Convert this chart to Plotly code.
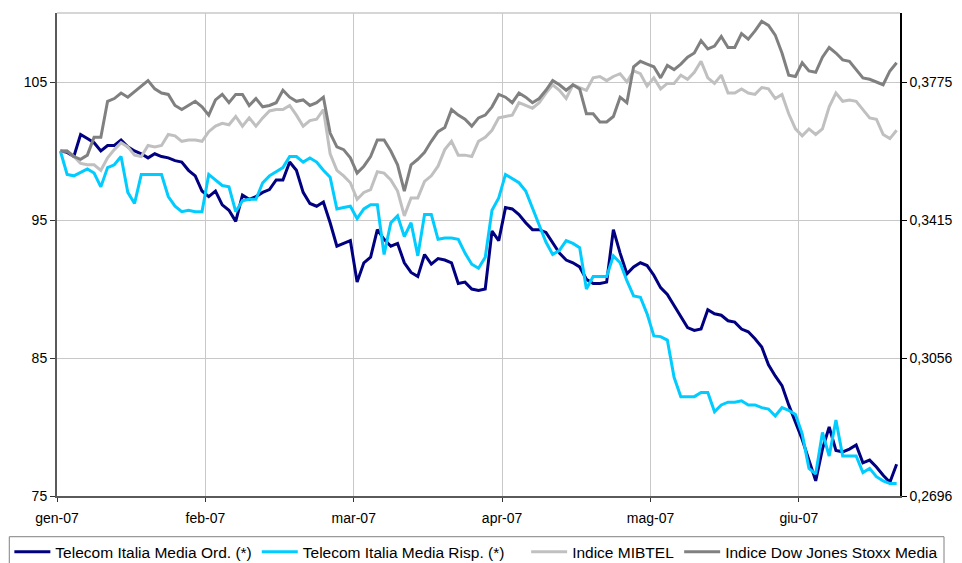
import plotly.graph_objects as go

# ---- data ----
month_labels = ["gen-07", "feb-07", "mar-07", "apr-07", "mag-07", "giu-07"]
points_per_month = 22
left_ticks = [75, 85, 95, 105]
right_tick_labels = ["0,2696", "0,3056", "0,3415", "0,3775"]
right_base_value = 0.2696   # right-axis value matching 75 on the left axis

telecom_ord = [
    100.0, 99.9, 99.6, 101.2, 100.9, 100.6, 100.0, 100.4, 100.4, 100.8,
    100.3, 100.0, 99.8, 99.5, 99.8, 99.6, 99.5, 99.3, 99.2, 98.6,
    98.2, 97.1, 96.7, 97.1, 96.1, 95.7, 94.9, 96.8, 96.5, 96.7,
    97.0, 97.2, 97.9, 97.9, 99.2, 98.6, 97.0, 96.2, 96.0,
    96.3, 94.8, 93.1, 93.3, 93.5, 90.5, 91.9, 92.3, 94.3, 93.6,
    93.1, 93.3, 91.9, 91.2, 90.9, 92.5, 91.8, 92.2, 92.1, 91.9,
    90.4, 90.5, 90.0, 89.9, 90.0, 94.2, 93.5, 95.9, 95.8, 95.4,
    94.8, 94.3, 94.3, 94.1, 93.3, 92.6, 92.1, 91.9, 91.6, 90.7,
    90.4, 90.4, 90.5, 94.3,
    92.6, 91.1, 91.6, 91.9, 91.7, 91.0, 90.1, 89.6, 88.8, 88.0,
    87.2, 87.0, 87.1, 88.5, 88.2, 88.1, 87.7, 87.6, 87.1, 86.9,
    86.4, 85.8, 84.5, 83.7, 83.0, 81.6, 80.4, 79.1, 77.6, 76.1,
    78.4, 80.0, 78.3, 78.2, 78.4, 78.7, 77.4, 77.6, 77.1, 76.5,
    76.0, 77.3,
]

telecom_risp = [
    100.0, 98.3, 98.2, 98.45, 98.7, 98.4, 97.4, 98.8, 99.0, 99.6,
    97.0, 96.2, 98.3, 98.3, 98.3, 98.3, 96.7, 96.0, 95.6, 95.7,
    95.6, 95.6, 98.3, 97.9, 97.5, 97.4, 95.6, 96.4, 96.5, 96.5,
    97.7, 98.2, 98.5, 98.8, 99.6, 99.6, 99.2, 99.5, 99.2,
    98.6, 98.1, 95.8, 95.9, 96.0, 95.1, 95.8, 96.1, 96.1, 92.5,
    94.8, 95.3, 93.8, 94.8, 92.4, 95.4, 95.4, 93.6, 93.7, 93.7,
    93.6, 92.6, 91.8, 91.5, 92.3, 95.7, 96.6, 98.3, 98.0, 97.7,
    97.1, 95.9, 94.6, 93.4, 92.5, 92.8, 93.5, 93.3, 93.0, 90.0,
    90.9, 90.9, 90.9, 92.4,
    91.9, 90.6, 89.5, 89.4, 88.2, 86.6, 86.55, 86.3, 83.6, 82.2,
    82.2, 82.2, 82.5, 82.5, 81.1, 81.6, 81.8, 81.8, 81.9, 81.6,
    81.6, 81.4, 81.3, 80.8, 81.4, 81.2, 80.9, 79.5, 77.0, 76.6,
    79.6, 77.9, 80.5, 77.9, 77.9, 77.9, 76.7, 77.0, 76.4, 76.1,
    75.9, 75.9,
]

indice_mibtel = [
    100.0, 100.0, 99.6, 99.1, 99.0, 99.0, 98.6, 99.5, 100.1, 100.6,
    100.3, 99.7, 99.6, 100.4, 100.3, 100.4, 101.2, 101.1, 100.7, 100.8,
    100.8, 100.7, 101.4, 101.8, 102.0, 101.9, 102.5, 101.8, 102.4, 101.8,
    102.4, 102.9, 103.0, 103.0, 103.3, 102.6, 101.8, 102.2, 102.3,
    103.0, 99.8, 98.6, 98.2, 97.7, 96.5, 97.0, 97.2, 98.5, 98.4,
    97.9, 97.1, 95.3, 96.6, 96.6, 97.8, 98.2, 98.9, 100.1, 100.7,
    99.7, 99.7, 99.6, 100.7, 101.0, 101.5, 102.4, 102.5, 102.6, 103.5,
    103.3, 103.1, 103.5, 104.2, 104.8, 104.4, 103.8, 104.8, 104.6, 104.4,
    105.3, 105.4, 105.1, 105.4,
    105.6, 105.0, 105.8, 105.6, 104.7, 105.3, 104.5, 104.9, 104.9, 105.5,
    105.2, 105.7, 106.5, 105.3, 104.9, 105.5, 104.2, 104.2, 104.5, 104.2,
    104.1, 104.6, 104.5, 103.8, 104.1, 102.7, 101.6, 101.1, 101.6, 101.2,
    101.6, 103.2, 104.2, 103.6, 103.7, 103.6, 103.0, 102.4, 102.3, 101.2,
    100.9, 101.5,
]

indice_dj_stoxx_media = [
    100.0, 100.0, 99.6, 99.4, 99.7, 101.0, 101.0, 103.6, 103.8, 104.2,
    103.9, 104.3, 104.7, 105.1, 104.5, 104.2, 104.1, 103.3, 103.0, 103.3,
    103.6, 103.2, 102.6, 103.7, 104.1, 103.5, 104.1, 104.1, 103.3, 103.8,
    103.2, 103.3, 103.5, 104.4, 103.9, 103.6, 103.7, 103.3, 103.5,
    103.9, 101.3, 100.3, 100.1, 99.5, 98.4, 98.9, 99.6, 100.8, 100.8,
    100.0, 99.0, 97.1, 99.0, 99.4, 99.9, 100.7, 101.4, 101.7, 103.0,
    102.6, 102.3, 101.8, 102.4, 102.6, 103.2, 104.1, 103.9, 103.5, 104.2,
    103.9, 103.5, 103.8, 104.4, 105.1, 104.8, 104.4, 104.8, 104.5, 102.7,
    102.7, 102.1, 102.1, 102.5,
    103.9, 103.5, 106.1, 106.5, 106.3, 106.1, 105.3, 106.2, 105.9, 106.3,
    106.8, 107.1, 108.0, 107.4, 107.6, 108.3, 107.5, 107.5, 108.5, 108.1,
    108.7, 109.4, 109.1, 108.4, 107.1, 105.5, 105.4, 106.4, 105.8, 105.7,
    106.8, 107.5, 107.1, 106.6, 106.5, 105.9, 105.3, 105.2, 105.0, 104.8,
    105.8, 106.4,
]

series = [
    ("Telecom Italia Media Ord. (*)", telecom_ord, "#000080", "legend"),
    ("Telecom Italia Media Risp. (*)", telecom_risp, "#00CCFF", "legend"),
    ("Indice MIBTEL", indice_mibtel, "#C0C0C0", "legend2"),
    ("Indice Dow Jones Stoxx Media", indice_dj_stoxx_media, "#808080", "legend2"),
]

n = len(telecom_ord)
x_idx = list(range(n))
scale = right_base_value / left_ticks[0]
y_min, y_max = 75, 110

FONT = "Liberation Sans, Arial, sans-serif"

fig = go.Figure()
for name, vals, color, lg in series:
    fig.add_trace(go.Scatter(
        x=x_idx, y=vals, name=name, mode="lines",
        line=dict(color=color, width=3),
        legend=lg, hoverinfo="skip",
    ))

# invisible helper trace so that the right axis is drawn
fig.add_trace(go.Scatter(
    x=[x_idx[0]], y=[right_base_value], yaxis="y2", mode="markers",
    marker=dict(opacity=0), showlegend=False, hoverinfo="skip",
))

month_ticks = [-0.5 + points_per_month * k for k in range(len(month_labels))]

legend_common = dict(
    orientation="h", xanchor="left", yanchor="top", y=-0.081,
    borderwidth=0, bgcolor="rgba(0,0,0,0)",
    font=dict(family=FONT, size=15.5, color="black"),
    itemwidth=36, tracegroupgap=0,
)

fig.update_layout(
    width=962, height=563,
    margin=dict(l=57, r=62, t=13, b=67, pad=0, autoexpand=False),
    paper_bgcolor="white", plot_bgcolor="white",
    font=dict(family=FONT, size=14, color="black"),
    showlegend=True,
    xaxis=dict(
        range=[-0.5, n - 0.5], automargin=False,
        tickmode="array", tickvals=month_ticks, ticktext=month_labels,
        showgrid=True, gridcolor="#C8C8C8", gridwidth=1,
        showline=True, linecolor="#5A5A5A", linewidth=2,
        ticks="outside", ticklen=4, tickcolor="#333333", tickwidth=1,
        zeroline=False, ticklabelstandoff=4,
        tickfont=dict(family=FONT, size=14, color="black"),
    ),
    yaxis=dict(
        range=[y_min, y_max], automargin=False,
        tickmode="array", tickvals=left_ticks,
        showgrid=True, gridcolor="#C8C8C8", gridwidth=1,
        showline=True, linecolor="#5A5A5A", linewidth=2,
        ticks="outside", ticklen=5, tickcolor="#333333", tickwidth=1,
        zeroline=False,
        tickfont=dict(family=FONT, size=14, color="black"),
    ),
    yaxis2=dict(
        overlaying="y", side="right", automargin=False,
        range=[y_min * scale, y_max * scale],
        tickmode="array", tickvals=[v * scale for v in left_ticks],
        ticktext=right_tick_labels,
        showgrid=False, zeroline=False,
        showline=True, linecolor="black", linewidth=1.5,
        ticks="outside", ticklen=5, tickcolor="black", tickwidth=1,
        tickfont=dict(family=FONT, size=14, color="black"),
    ),
    legend=dict(x=-0.0565, **legend_common),
    legend2=dict(x=0.5565, **legend_common),
    shapes=[
        # top border of the plot area
        dict(type="line", xref="paper", yref="paper",
             x0=0, x1=1, y0=1, y1=1,
             line=dict(color="#C8C8C8", width=1.5)),
        # frame around the legend row
        dict(type="rect", xref="paper", yref="paper",
             x0=-0.0566, x1=1.0522, y0=-0.0843, y1=-0.17,
             line=dict(color="#808080", width=1), fillcolor="rgba(0,0,0,0)"),
    ],
)

fig.write_html("out.html", config={"displayModeBar": False},
               post_script="document.body.style.margin='0px';")
